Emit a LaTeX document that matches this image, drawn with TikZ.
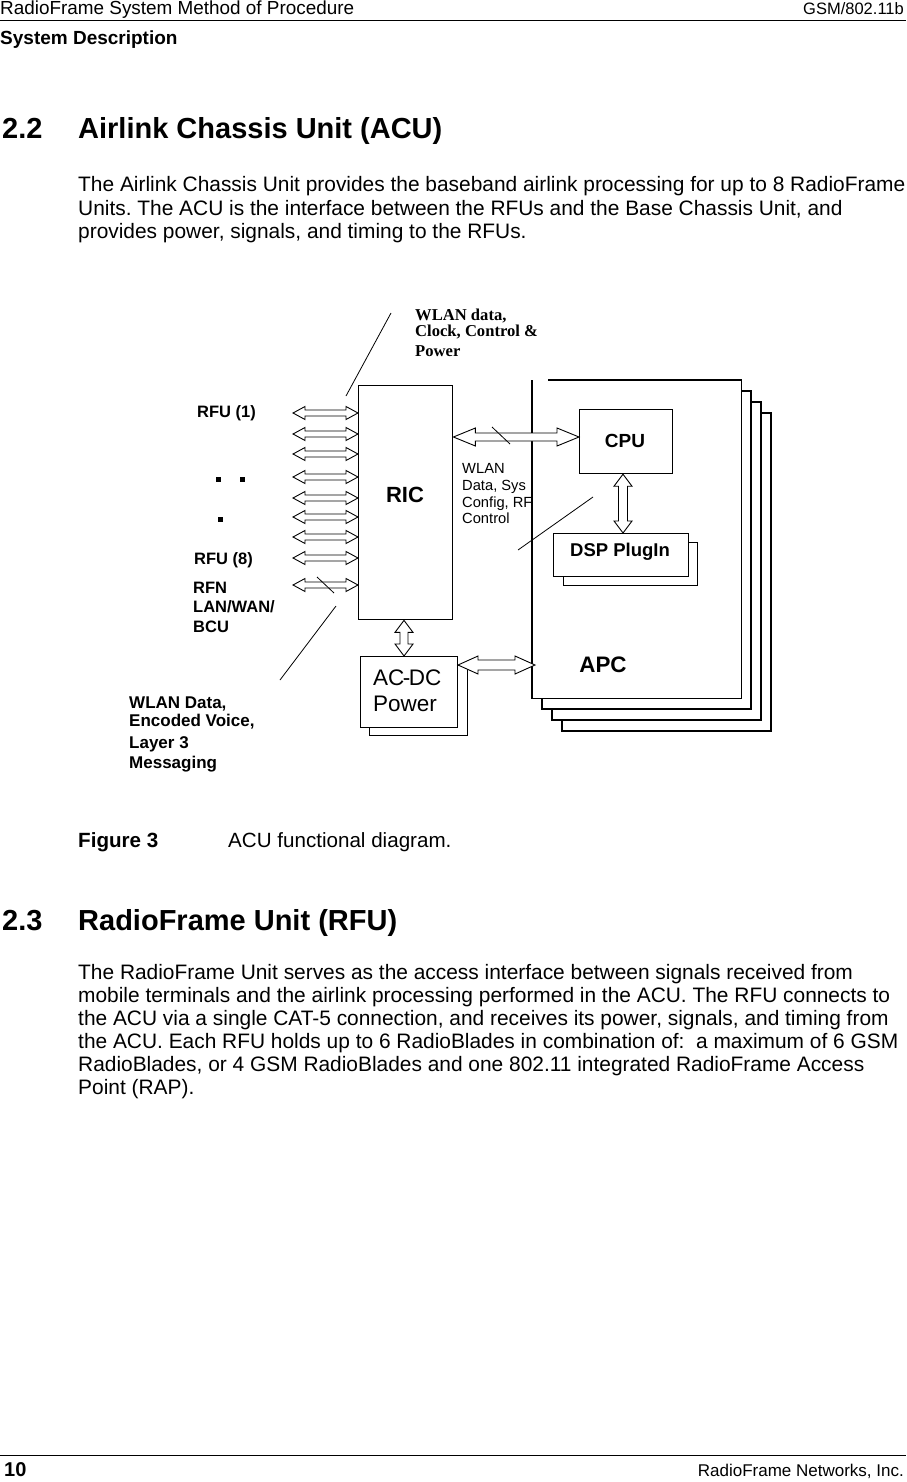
\documentclass[tikz,border=0pt]{standalone}
\usepackage{fontspec}
\setmainfont{Liberation Sans}
\newfontfamily\timesfont{Liberation Serif}
\usetikzlibrary{calc}
\frenchspacing

\newcommand{\fs}[1]{\fontsize{#1}{1.2\dimexpr#1pt\relax}\selectfont}

\tikzset{
  box/.style={draw, line width=1.2pt, fill=white, inner sep=0pt},
  hollow/.style n args={3}{line width=0.9pt, fill=white, to path={let \p1=(\tikztostart), \p2=(\tikztotarget),
      \n1={atan2(\y2-\y1,\x2-\x1)}, \n2={veclen(\x2-\x1,\y2-\y1)} in
      [shift={(\p1)}, rotate=\n1]
      (0,0) -- (#1,#2) -- (#1,#3) -- (\n2-#1,#3) -- (\n2-#1,#2) -- (\n2,0)
      -- (\n2-#1,-#2) -- (\n2-#1,-#3) -- (#1,-#3) -- (#1,-#2) -- cycle}},
  txt/.style={anchor=base west, inner sep=0pt},
  rtxt/.style={anchor=base east, inner sep=0pt},
  lbl/.style={inner sep=0pt, font=\bfseries\fs{#1}},
}

\begin{document}
\begin{tikzpicture}[x=1pt,y=-1pt]
\fill[white] (0,0) rectangle (906,1482);
\useasboundingbox (0,0) rectangle (906,1482);

\node[txt, font=\fs{18.9}] at (0,15) {RadioFrame System Method of Procedure};
\node[rtxt, font=\fs{16.5}] at (904,15) {GSM/802.11b};
\draw[line width=1pt] (0,21) -- (906,21);
\node[txt, font=\bfseries\fs{19}] at (0,45) {System Description};

\node[txt, font=\bfseries\fs{29}] at (2,139) {2.2};
\node[txt, font=\bfseries\fs{29}] at (78,139) {Airlink Chassis Unit (ACU)};
\node[txt, font=\fs{20.9}] at (78,192) {The Airlink Chassis Unit provides the baseband airlink processing for up to 8 RadioFrame};
\node[txt, font=\fs{20.9}] at (78,215) {Units. The ACU is the interface between the RFUs and the Base Chassis Unit, and};
\node[txt, font=\fs{20.9}] at (78,238) {provides power, signals, and timing to the RFUs.};

% APC stack
\foreach \d in {30,20,10}
  \draw[line width=1.2pt, fill=white] (532+\d,380+1.1*\d) rectangle (741+\d,698+1.1*\d);
\node[fill=white, inner sep=0pt, minimum width=209pt, minimum height=318pt, anchor=north west] (apc) at (532,380) {};
\draw[line width=1.2pt] ($(apc.north west)+(16,0)$) -- (apc.north east) -- (apc.south east) -- (apc.south west) -- (apc.north west);
\node[lbl=22.4] at (603,665) {APC};

\node[box, minimum width=93pt, minimum height=64pt, anchor=north west] (cpu) at (579,409) {};
\node[lbl=19] at (625,441) {CPU};
\draw[line width=1pt, fill=white] (563,542) rectangle (697,585);
\node[box, line width=1pt, minimum width=135pt, minimum height=43pt, anchor=north west] (dsp) at (553,533) {};
\node[lbl=18.5] at (620,552) {DSP PlugIn};
\draw[hollow={12}{9}{4.5}] (cpu.south -| 623,0) to (dsp.north -| 623,0);

% RIC
\node[box, line width=1.4pt, minimum width=94pt, minimum height=234pt, anchor=north west] (ric) at (358,385) {};
\node[lbl=22] at (405,495) {RIC};

\foreach \y [count=\i] in {413,434,454,477,498,517,537,558,585} {
  \coordinate (rfu\i) at (293,\y);
  \draw[hollow={12}{6.5}{3}] (rfu\i) to (ric.west |- rfu\i);
}
\draw[line width=0.8pt] (317,577) -- (334,593);
\fill (216,477) rectangle ++(5,5);
\fill (240,477) rectangle ++(5,5);
\fill (218,517) rectangle ++(5,5);

\node[txt, font=\bfseries\fs{16.5}] at (197,417) {RFU (1)};
\node[txt, font=\bfseries\fs{16.5}] at (194,564) {RFU (8)};
\node[txt, font=\bfseries\fs{16.5}] at (193,593) {RFN};
\node[txt, font=\bfseries\fs{16.5}] at (193,612) {LAN/WAN/};
\node[txt, font=\bfseries\fs{16.5}] at (193,632) {BCU};

\coordinate (ricout) at (452,437);
\draw[hollow={22}{9}{4}] (ric.east |- ricout) to (cpu.west |- ricout);
\draw[line width=0.8pt] (492,427) -- (510,444);
\node[txt, font=\fs{14.7}] at (462,473) {WLAN};
\node[txt, font=\fs{14.7}] at (462,490) {Data, Sys};
\node[txt, font=\fs{14.7}] at (462,507) {Config, RF};
\node[txt, font=\fs{14.7}] at (462,523) {Control};
\draw[line width=0.8pt] (518,550) -- (593,497);

\draw[line width=0.8pt] (346,396) -- (391,313);
\node[txt, font=\timesfont\bfseries\fs{16.6}] at (415,320) {WLAN data,};
\node[txt, font=\timesfont\bfseries\fs{16.6}] at (415,336) {Clock, Control \&};
\node[txt, font=\timesfont\bfseries\fs{16.6}] at (415,356) {Power};

\draw[line width=0.8pt] (280,680) -- (336,606);
\node[txt, font=\bfseries\fs{17}] at (129,708) {WLAN Data,};
\node[txt, font=\bfseries\fs{17}] at (129,726) {Encoded Voice,};
\node[txt, font=\bfseries\fs{17}] at (129,748) {Layer 3};
\node[txt, font=\bfseries\fs{17}] at (129,768) {Messaging};

% AC-DC
\draw[line width=1pt, fill=white] (369,665) rectangle (467,735);
\node[box, line width=1pt, minimum width=97pt, minimum height=71pt, anchor=north west] (acdc) at (360,656) {};
\node[txt, font=\fs{22.5}] at (373,685) {AC\kern-1.5pt-\kern-1.5ptDC};
\node[txt, font=\fs{22.5}] at (373,711) {Power};
\draw[hollow={12}{9}{4}] (ric.south -| 404,0) to (acdc.north -| 404,0);
\coordinate (apcin) at (535,665);
\draw[hollow={20}{9}{5}] (acdc.east |- apcin) to (apcin);

\node[txt, font=\bfseries\fs{20.6}] at (78,847) {Figure 3};
\node[txt, font=\fs{20.6}] at (228,847) {ACU functional diagram.};

\node[txt, font=\bfseries\fs{29}] at (2,930) {2.3};
\node[txt, font=\bfseries\fs{29}] at (78,930) {RadioFrame Unit (RFU)};
\foreach \t [count=\i] in {
  {The RadioFrame Unit serves as the access interface between signals received from},
  {mobile terminals and the airlink processing performed in the ACU. The RFU connects to},
  {the ACU via a single CAT-5 connection, and receives its power, signals, and timing from},
  {the ACU. Each RFU holds up to 6 RadioBlades in combination of:\ \ a maximum of 6 GSM},
  {RadioBlades, or 4 GSM RadioBlades and one 802.11 integrated RadioFrame Access},
  {Point (RAP).}}
  \node[txt, font=\fs{20.9}] at (78,956+23*\i) {\t};

\draw[line width=1pt] (0,1455) -- (906,1455);
\node[txt, font=\bfseries\fs{20}] at (4,1476) {10};
\node[rtxt, font=\fs{17}] at (904,1476) {RadioFrame Networks, Inc.};
\end{tikzpicture}
\end{document}
